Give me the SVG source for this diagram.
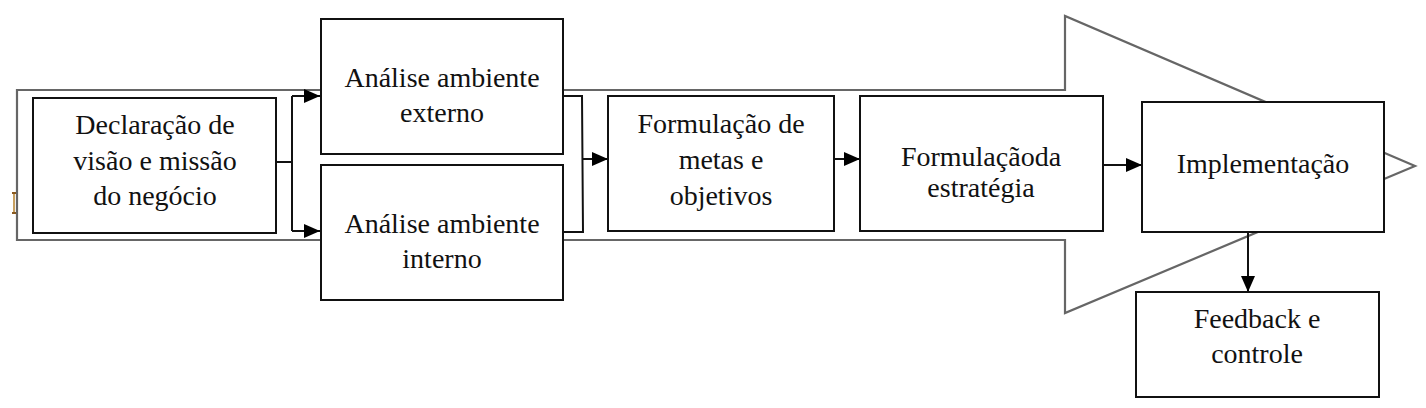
<svg xmlns="http://www.w3.org/2000/svg" width="1426" height="408" viewBox="0 0 1426 408">
<style>
.box{fill:#fff;stroke:#111;stroke-width:2}
.big{fill:#fff;stroke:#666;stroke-width:2.2}
.con{fill:none;stroke:#111;stroke-width:2}
.t{font-family:'Liberation Serif','DejaVu Serif',serif;font-size:28px;fill:#111;text-anchor:middle}
</style>
<defs>
<marker id="ah" markerWidth="16" markerHeight="14" refX="16" refY="7" orient="auto" markerUnits="userSpaceOnUse">
<path d="M0,0 L16,7 L0,14 Z" fill="#000"/>
</marker>
</defs>
<rect width="1426" height="408" fill="#fff"/>
<g id="big-arrow">
<path class="big" d="M17,90 L1065,90 L1065,16 L1415,166 L1065,313 L1065,240 L17,240 Z"/>
<path d="M14,193 L14,213" stroke="#c8a060" stroke-width="2" fill="none"/>
<path d="M12,193 L16,193 M12,213 L16,213" stroke="#8a5a20" stroke-width="2" fill="none"/>
</g>
<g id="connectors">
<path class="con" d="M276,162 L292,162"/>
<path class="con" d="M292,96 L292,231"/>
<path class="con" d="M292,96 L320,96" marker-end="url(#ah)"/>
<path class="con" d="M292,231 L320,231" marker-end="url(#ah)"/>
<path class="con" d="M563,96 L582,96 L583,232 L563,232"/>
<path class="con" d="M583,159 L608,159" marker-end="url(#ah)"/>
<path class="con" d="M834,159 L860,159" marker-end="url(#ah)"/>
<path class="con" d="M1103,165 L1142,165" marker-end="url(#ah)"/>
<path class="con" d="M1248,232 L1248,292" marker-end="url(#ah)"/>
</g>
<g id="n-declaracao">
<rect class="box" x="33" y="98" width="243" height="135"/>
<text class="t" font-family="Liberation Serif, serif" x="155" y="134">Declaração de</text>
<text class="t" font-family="Liberation Serif, serif" x="155" y="170">visão e missão</text>
<text class="t" font-family="Liberation Serif, serif" x="155" y="205">do negócio</text>
</g>
<g id="n-externo">
<rect class="box" x="321" y="19" width="242" height="135"/>
<text class="t" font-family="Liberation Serif, serif" x="442" y="87">Análise ambiente</text>
<text class="t" font-family="Liberation Serif, serif" x="442" y="122">externo</text>
</g>
<g id="n-interno">
<rect class="box" x="321" y="165" width="242" height="135"/>
<text class="t" font-family="Liberation Serif, serif" x="442" y="233">Análise ambiente</text>
<text class="t" font-family="Liberation Serif, serif" x="442" y="268">interno</text>
</g>
<g id="n-metas">
<rect class="box" x="608" y="96" width="226" height="135"/>
<text class="t" font-family="Liberation Serif, serif" x="721" y="133">Formulação de</text>
<text class="t" font-family="Liberation Serif, serif" x="721" y="169">metas e</text>
<text class="t" font-family="Liberation Serif, serif" x="721" y="205">objetivos</text>
</g>
<g id="n-estrategia">
<rect class="box" x="860" y="96" width="243" height="135"/>
<text class="t" font-family="Liberation Serif, serif" x="981" y="166">Formulaçãoda</text>
<text class="t" font-family="Liberation Serif, serif" x="981" y="197">estratégia</text>
</g>
<g id="n-implementacao">
<rect class="box" x="1142" y="102" width="242" height="130"/>
<text class="t" font-family="Liberation Serif, serif" x="1263" y="173">Implementação</text>
</g>
<g id="n-feedback">
<rect class="box" x="1136" y="292" width="243" height="105"/>
<text class="t" font-family="Liberation Serif, serif" x="1257" y="328">Feedback e</text>
<text class="t" font-family="Liberation Serif, serif" x="1257" y="363">controle</text>
</g>
</svg>
